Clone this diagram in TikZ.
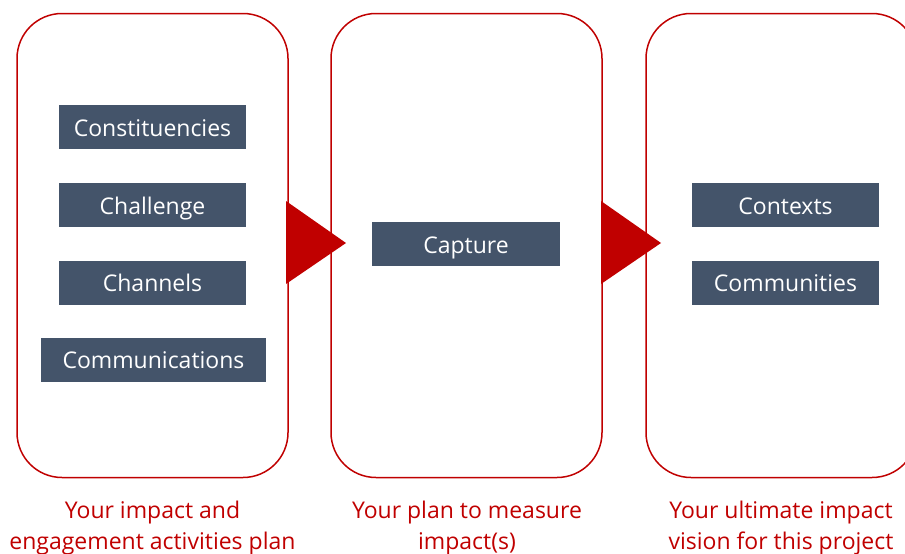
\documentclass[tikz,border=0pt]{standalone}
\usepackage{fontspec}
\setmainfont{Open Sans}
\definecolor{frame}{HTML}{C00000}
\definecolor{slate}{HTML}{44546A}
\begin{document}
\begin{tikzpicture}[x=1pt,y=-1pt,
  panel/.style={draw=frame,line width=1.5pt,fill=white,rounded corners=45pt,minimum width=271pt,minimum height=464pt,inner sep=0pt},
  item/.style={fill=slate,text=white,minimum height=44pt,inner sep=0pt,text height=22pt,text depth=4pt,font=\fontsize{23}{27}\selectfont},
  caption/.style={text=frame,align=center,font=\fontsize{23}{31}\selectfont,inner sep=0pt},
  tri/.style={fill=frame}]
\useasboundingbox (0,0) rectangle (905,554);
\clip (0,0) rectangle (905,554);
\node[panel] (p1) at (152.5,245.5) {};
\node[panel] (p2) at (466.5,245.5) {};
\node[panel] (p3) at (781.5,245.5) {};
\fill[tri] (286,201) -- (346,243) -- (286,284) -- cycle;
\fill[tri] (601,201) -- (661,243) -- (601,284) -- cycle;
\node[item,minimum width=187pt] (c1) at (152.5,127) {Constituencies};
\node[item,minimum width=187pt] (c2) at (152.5,205) {Challenge};
\node[item,minimum width=187pt] (c3) at (152.5,282.5) {Channels};
\node[item,minimum width=225pt] (c4) at (153.5,359.5) {Communications};
\node[item,minimum width=188pt] (c5) at (466,244) {Capture};
\node[item,minimum width=187pt] (c6) at (785.5,205) {Contexts};
\node[item,minimum width=187pt] (c7) at (785.5,282.5) {Communities};
\node[caption] (t1) at (152.5,528) {Your impact and\\engagement activities plan};
\node[caption] (t2) at (467,528) {Your plan to measure\\impact(s)};
\node[caption] (t3) at (781,528) {Your ultimate impact\\vision for this project};
\end{tikzpicture}
\end{document}
